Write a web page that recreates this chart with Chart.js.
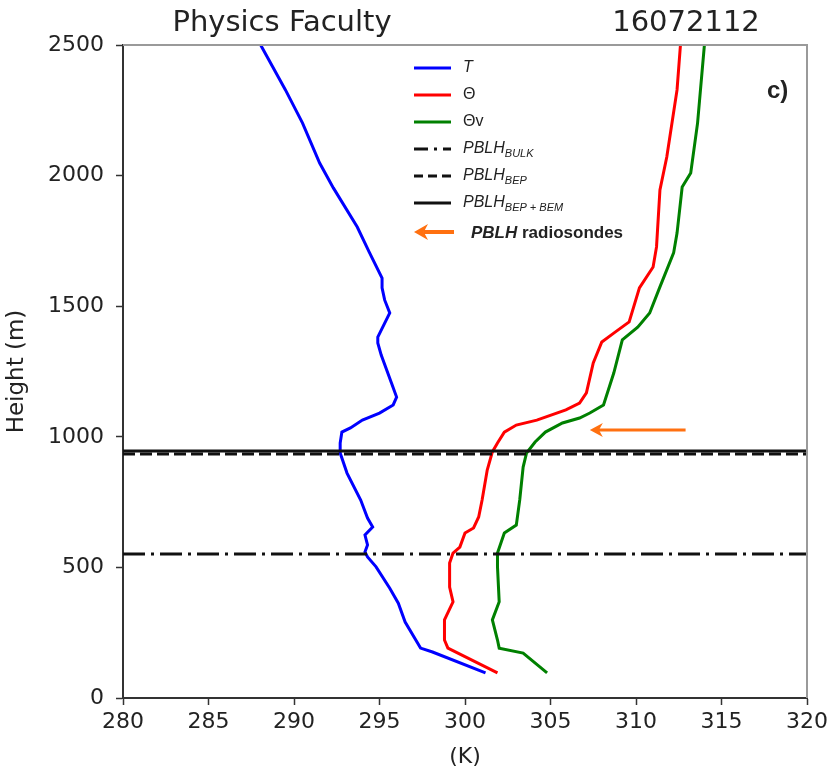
<!DOCTYPE html>
<html><head><meta charset="utf-8">
<script src="https://cdn.jsdelivr.net/npm/chart.js@4"></script>
<style>html,body{margin:0;padding:0;background:#fff}#wrap{width:832px;height:772px;position:relative}</style>
</head><body><div id="wrap"><canvas id="c" width="832" height="772"></canvas></div>
<script>
// ---------------- data ----------------
const titleLeft = 'Physics Faculty';
const titleRight = '16072112';
const panelLabel = 'c)';
const xAxisTitle = '(K)';
const yAxisTitle = 'Height (m)';
const xTicks = [280, 285, 290, 295, 300, 305, 310, 315, 320];
const yTicks = [0, 500, 1000, 1500, 2000, 2500];

// T (blue)
const tHeights = [96, 176, 191, 291, 363, 420, 502, 540, 559, 586, 624, 655, 689, 758, 861, 938, 976, 1018, 1034, 1064, 1091, 1122, 1152, 1206, 1313, 1359, 1382, 1474, 1524, 1570, 1608, 1707, 1803, 1953, 2048, 2201, 2328, 2500];
const tValues  = [301.2, 298.1, 297.4, 296.5, 296.1, 295.6, 294.8, 294.3, 294.15, 294.3, 294.15, 294.6, 294.3, 293.9, 293.1, 292.7, 292.7, 292.8, 293.3, 294.0, 295.0, 295.8, 296.0, 295.7, 295.1, 294.9, 294.9, 295.6, 295.3, 295.15, 295.15, 294.4, 293.7, 292.3, 291.5, 290.5, 289.5, 288.05];

// Theta (red)
const thHeights = [96, 191, 222, 299, 368, 425, 517, 555, 578, 632, 651, 693, 758, 873, 942, 976, 1018, 1045, 1064, 1103, 1129, 1168, 1283, 1363, 1397, 1440, 1570, 1650, 1727, 1945, 2071, 2328, 2500];
const thValues  = [301.9, 299.0, 298.8, 298.8, 299.3, 299.1, 299.1, 299.3, 299.7, 300.0, 300.5, 300.8, 301.0, 301.3, 301.6, 301.9, 302.3, 303.0, 304.2, 305.9, 306.7, 307.1, 307.5, 308.0, 308.7, 309.6, 310.2, 311.0, 311.2, 311.4, 311.8, 312.4, 312.6];

// Theta v (green)
const thvHeights = [96, 172, 191, 222, 299, 368, 502, 555, 632, 662, 758, 884, 938, 980, 1018, 1053, 1072, 1091, 1122, 1244, 1371, 1420, 1474, 1574, 1704, 1780, 1956, 2010, 2201, 2500];
const thvValues  = [304.8, 303.4, 302.0, 301.9, 301.6, 302.0, 301.9, 301.9, 302.3, 303.0, 303.2, 303.4, 303.6, 304.1, 304.7, 305.7, 306.7, 307.3, 308.1, 308.7, 309.2, 310.1, 310.8, 311.4, 312.2, 312.4, 312.7, 313.2, 313.6, 314.0];

// PBLH heights (m)
const pblhBulk = 551;
const pblhBep = 934;
const pblhBepBem = 946;
// radiosonde PBLH arrow (K from, K to, height)
const radioArrowX = [312.9, 307.3];
const radioArrowH = 1026;

const legendLabels = ['T', 'Θ', 'Θv', 'PBLH|BULK', 'PBLH|BEP', 'PBLH|BEP + BEM', 'PBLH| radiosondes'];

// ---------------- build ----------------
const pts = (xs, ys) => xs.map((x, i) => ({x: x, y: ys[i]}));
const hline = h => [{x: xTicks[0], y: h}, {x: xTicks[xTicks.length - 1], y: h}];
const ORANGE = '#ff7010';

const frame = {
  id: 'frame',
  afterDraw(chart) {
    const {ctx, chartArea: a} = chart;
    ctx.save();
    ctx.strokeStyle = '#9a9a9a';
    ctx.lineWidth = 2;
    ctx.beginPath();
    ctx.moveTo(a.left, a.top); ctx.lineTo(a.right, a.top); ctx.lineTo(a.right, a.bottom);
    ctx.stroke();
    // titles
    ctx.fillStyle = '#222';
    ctx.font = '29px "DejaVu Sans"';
    ctx.textBaseline = 'alphabetic';
    ctx.textAlign = 'center';
    ctx.fillText(titleLeft, 282, 31);
    ctx.fillText(titleRight, 686, 31);
    // panel label
    ctx.font = 'bold 24px "Liberation Sans"';
    ctx.textAlign = 'left';
    ctx.fillText(panelLabel, 767, 98);
    ctx.restore();
  }
};

function drawArrowHead(ctx, x, y, len, half, dir) {
  ctx.beginPath();
  ctx.moveTo(x, y);
  ctx.lineTo(x + dir * len, y - half);
  ctx.lineTo(x + dir * len * 0.7, y);
  ctx.lineTo(x + dir * len, y + half);
  ctx.closePath();
  ctx.fill();
}

const arrowPlugin = {
  id: 'arrowPlugin',
  afterDatasetsDraw(chart) {
    const {ctx, scales: {x, y}} = chart;
    const x0 = x.getPixelForValue(radioArrowX[0]);
    const x1 = x.getPixelForValue(radioArrowX[1]);
    const yy = y.getPixelForValue(radioArrowH);
    ctx.save();
    ctx.strokeStyle = ORANGE; ctx.fillStyle = ORANGE; ctx.lineWidth = 3;
    ctx.beginPath(); ctx.moveTo(x0, yy); ctx.lineTo(x1 + 8, yy); ctx.stroke();
    drawArrowHead(ctx, x1, yy, 13, 7, 1);
    ctx.restore();
  }
};

const legendPlugin = {
  id: 'customLegend',
  afterDraw(chart) {
    const {ctx, chartArea: a} = chart;
    const lx0 = a.left + 291, lx1 = a.left + 328, tx = a.left + 340;
    const rows = [68, 95, 122, 149, 176, 203, 232];
    const styles = [
      {c: '#0000ff', d: []}, {c: '#ff0000', d: []}, {c: '#008000', d: []},
      {c: '#111', d: [14, 6, 3, 6]}, {c: '#111', d: [9, 5]}, {c: '#111', d: []}, {c: ORANGE, arrow: true}
    ];
    ctx.save();
    ctx.textBaseline = 'middle';
    legendLabels.forEach((lab, i) => {
      const yy = rows[i];
      const s = styles[i];
      if (s.arrow) {
        ctx.fillStyle = s.c; ctx.strokeStyle = s.c; ctx.lineWidth = 4;
        ctx.beginPath(); ctx.moveTo(lx0 + 10, yy); ctx.lineTo(lx1 + 3, yy); ctx.stroke();
        drawArrowHead(ctx, lx0, yy, 14, 8, 1);
      } else {
        ctx.strokeStyle = s.c; ctx.lineWidth = 3; ctx.setLineDash(s.d);
        ctx.beginPath(); ctx.moveTo(lx0, yy); ctx.lineTo(lx1, yy); ctx.stroke();
        ctx.setLineDash([]);
      }
      ctx.fillStyle = '#222';
      const parts = lab.split('|');
      if (i === 6) {
        let x = tx + 8;
        ctx.font = 'italic bold 17px "Liberation Sans"';
        ctx.fillText(parts[0], x, yy + 1);
        x += ctx.measureText(parts[0]).width;
        ctx.font = 'bold 17px "Liberation Sans"';
        ctx.fillText(parts[1], x, yy + 1);
      } else if (parts.length > 1) {
        ctx.font = 'italic 16px "Liberation Sans"';
        ctx.fillText(parts[0], tx, yy);
        const w = ctx.measureText(parts[0]).width;
        ctx.font = 'italic 11px "Liberation Sans"';
        ctx.fillText(parts[1], tx + w, yy + 5);
      } else {
        ctx.font = (i === 0 ? 'italic ' : '') + '16px "Liberation Sans"';
        ctx.fillText(parts[0], tx, yy);
      }
    });
    ctx.restore();
  }
};

const lineDs = (label, data, color, width, dash, order) => ({
  label, data, borderColor: color, backgroundColor: color, borderWidth: width,
  borderDash: dash, showLine: true, pointRadius: 0, tension: 0, fill: false, order
});

new Chart(document.getElementById('c'), {
  type: 'scatter',
  data: {
    datasets: [
      lineDs('T', pts(tValues, tHeights), '#0000ff', 3, [], 5),
      lineDs('Θ', pts(thValues, thHeights), '#ff0000', 3, [], 4),
      lineDs('Θv', pts(thvValues, thvHeights), '#008000', 3, [], 3),
      lineDs('PBLH BULK', hline(pblhBulk), '#111', 3, [22, 6, 3, 6], 2),
      lineDs('PBLH BEP', hline(pblhBep), '#111', 3, [12, 5], 1),
      lineDs('PBLH BEP+BEM', hline(pblhBepBem), '#111', 3, [], 0)
    ]
  },
  options: {
    responsive: false, animation: false, devicePixelRatio: 1,
    layout: {padding: {top: 45, right: 25, left: 0, bottom: 0}},
    plugins: {legend: {display: false}, tooltip: {enabled: false}, title: {display: false}},
    scales: {
      x: {
        type: 'linear', min: xTicks[0], max: xTicks[xTicks.length - 1],
        afterBuildTicks: s => { s.ticks = xTicks.map(v => ({value: v})); },
        afterFit: s => { s.height = 74; },
        grid: {drawOnChartArea: false, drawTicks: true, tickLength: 7, tickColor: '#333', tickWidth: 1.5},
        border: {display: true, color: '#333', width: 2},
        ticks: {color: '#222', font: {family: 'DejaVu Sans', size: 22}, padding: 4, maxRotation: 0, autoSkip: false,
                callback: v => String(v)},
        title: {display: true, text: xAxisTitle, color: '#222', font: {family: 'DejaVu Sans', size: 22}, padding: {top: 0, bottom: 2}}
      },
      y: {
        type: 'linear', min: yTicks[0], max: yTicks[yTicks.length - 1],
        afterBuildTicks: s => { s.ticks = yTicks.map(v => ({value: v})); },
        afterFit: s => { s.width = 123; },
        grid: {drawOnChartArea: false, drawTicks: true, tickLength: 7, tickColor: '#333', tickWidth: 1.5},
        border: {display: true, color: '#333', width: 2},
        ticks: {color: '#222', font: {family: 'DejaVu Sans', size: 22}, padding: 12, autoSkip: false,
                callback: v => String(v)},
        title: {display: true, text: yAxisTitle, color: '#222', font: {family: 'DejaVu Sans', size: 23}, padding: {top: 3, bottom: 0}}
      }
    }
  },
  plugins: [frame, arrowPlugin, legendPlugin]
});
</script>
</body></html>
